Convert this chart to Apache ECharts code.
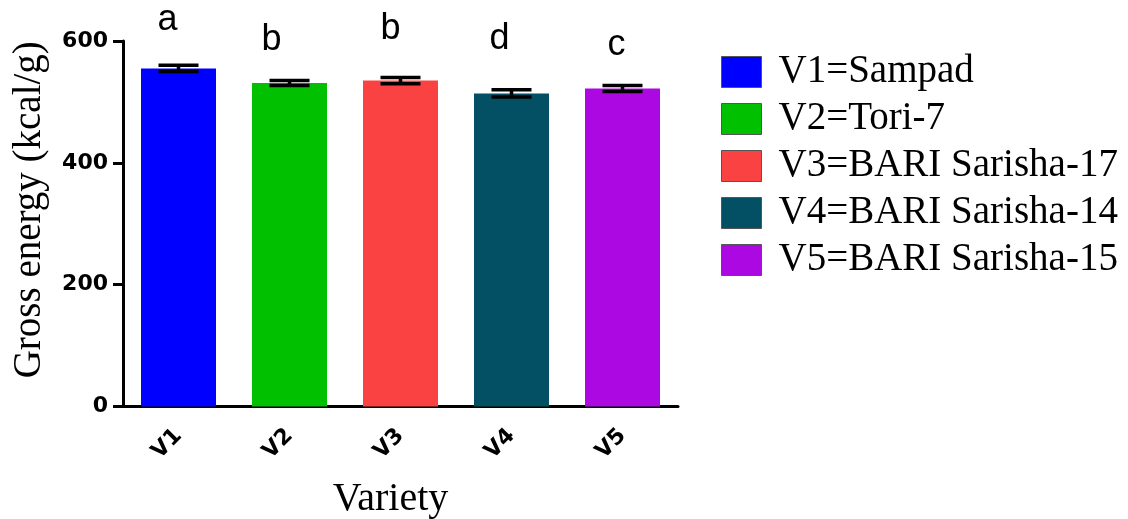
<!DOCTYPE html>
<html>
<head>
<meta charset="utf-8">
<script src="https://cdn.jsdelivr.net/npm/echarts@6/dist/echarts.min.js"></script>
<style>html,body{margin:0;padding:0;background:#fff}#c{width:1128px;height:519px}</style>
</head>
<body>
<div id="c"></div>
<script>
// ---- data ----
const categories = ['V1', 'V2', 'V3', 'V4', 'V5'];
const legendNames = ['V1=Sampad', 'V2=Tori-7', 'V3=BARI Sarisha-17', 'V4=BARI Sarisha-14', 'V5=BARI Sarisha-15'];
const means = [555, 531, 535, 514, 522];
const errors = [5, 4, 5, 6, 5];
const letters = ['a', 'b', 'b', 'd', 'c'];
const yTicks = [0, 200, 400, 600];

// ---- styles ----
const colors = ['#0000FF', '#00C000', '#FA4242', '#034F63', '#AC08E2'];
const letterOffsets = [[-11, -30], [-18, -25], [-10, -34], [-12, -36], [-6, -25]];

const chart = echarts.init(document.getElementById('c'), null, {renderer: 'canvas'});

const barSeries = categories.map((c, i) => ({
  name: legendNames[i],
  type: 'bar',
  barWidth: 75,
  barGap: '-100%',
  itemStyle: {color: colors[i]},
  data: categories.map((_, j) => j === i ? means[j] : '-'),
  label: {
    show: true,
    position: 'top',
    distance: 0,
    offset: letterOffsets[i],
    formatter: () => letters[i],
    fontFamily: 'Liberation Sans',
    fontSize: 36,
    color: '#000'
  },
  z: 2
}));

const errSeries = {
  type: 'custom',
  name: 'err',
  z: 5,
  silent: true,
  data: means.map((m, i) => [i, m, errors[i]]),
  renderItem: function (params, api) {
    const x = api.value(0), m = api.value(1), e = api.value(2);
    const hi = api.coord([x, m + e]);
    const lo = api.coord([x, m - e]);
    const hw = 20;
    const st = {stroke: '#000', lineWidth: 3.5};
    return {
      type: 'group',
      children: [
        {type: 'line', shape: {x1: hi[0] - hw, y1: hi[1], x2: hi[0] + hw, y2: hi[1]}, style: st},
        {type: 'line', shape: {x1: lo[0] - hw, y1: lo[1], x2: lo[0] + hw, y2: lo[1]}, style: st},
        {type: 'line', shape: {x1: hi[0], y1: hi[1], x2: lo[0], y2: lo[1]}, style: st}
      ]
    };
  }
};

chart.setOption({
  animation: false,
  backgroundColor: '#fff',
  grid: {left: 123, right: 450, top: 41, bottom: 112.5, containLabel: false, outerBoundsMode: 'none'},
  legend: {
    data: legendNames,
    orient: 'vertical',
    left: 716,
    top: 47,
    icon: 'rect',
    itemWidth: 40,
    itemHeight: 31,
    itemGap: 7,
    itemStyle: {borderColor: '#555', borderWidth: 1},
    textStyle: {fontFamily: 'Liberation Serif', fontSize: 39, lineHeight: 40, color: '#000', padding: [0, 0, 0, 12]},
    selectedMode: false
  },
  xAxis: {
    type: 'category',
    data: categories,
    name: 'Variety',
    nameLocation: 'middle',
    nameGap: 73,
    nameTextStyle: {fontFamily: 'Liberation Serif', fontSize: 40, color: '#000', padding: [0, 20, 0, 0]},
    axisLine: {lineStyle: {color: '#000', width: 3}},
    axisTick: {alignWithLabel: true, length: 10, lineStyle: {color: '#000', width: 3}},
    axisLabel: {rotate: 45, margin: 26, fontFamily: 'DejaVu Sans', fontWeight: 'bold', fontSize: 22, color: '#000'}
  },
  yAxis: {
    type: 'value',
    min: yTicks[0],
    max: yTicks[yTicks.length - 1],
    interval: yTicks[1] - yTicks[0],
    name: 'Gross energy (kcal/g)',
    nameLocation: 'middle',
    nameGap: 74,
    nameTextStyle: {fontFamily: 'Liberation Serif', fontSize: 39, color: '#000', padding: [0, 0, 0, 28]},
    axisLine: {show: true, lineStyle: {color: '#000', width: 3}},
    axisTick: {show: true, length: 10, lineStyle: {color: '#000', width: 3}},
    axisLabel: {margin: 15, fontFamily: 'DejaVu Sans', fontWeight: 'bold', fontSize: 22, color: '#000'},
    splitLine: {show: false}
  },
  series: [...barSeries, errSeries]
});
</script>
</body>
</html>
